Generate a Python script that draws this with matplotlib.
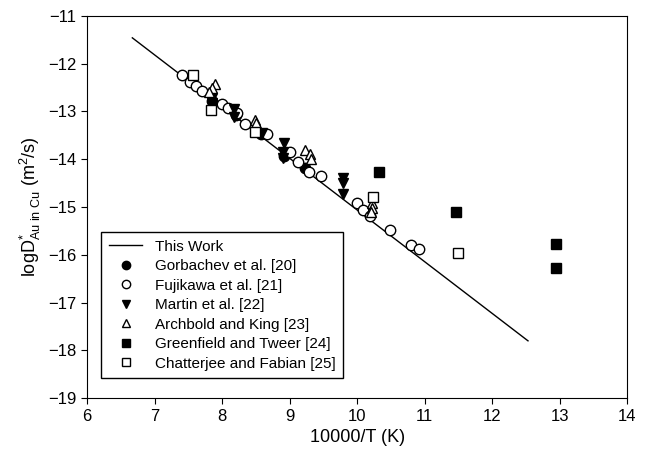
import matplotlib
matplotlib.use("Agg")
import matplotlib.pyplot as plt

plt.rcParams['font.family'] = ['Liberation Sans', 'DejaVu Sans']
plt.rcParams['mathtext.fontset'] = 'custom'
plt.rcParams['mathtext.rm'] = 'Liberation Sans'
plt.rcParams['mathtext.it'] = 'Liberation Sans:italic'

# "This Work" fit line end points
fit_x = [6.67, 12.53]
fit_y = [-11.46, -17.80]

# Gorbachev et al. [20]
gorb_x = [7.85, 8.20, 8.58, 8.91, 9.23]
gorb_y = [-12.78, -13.08, -13.47, -13.93, -14.19]

# Fujikawa et al. [21]
fuji_x = [7.40, 7.53, 7.62, 7.70, 8.00, 8.09, 8.22, 8.34, 8.67, 9.01, 9.12,
          9.28, 9.47, 10.00, 10.09, 10.19, 10.49, 10.79, 10.92]
fuji_y = [-12.24, -12.38, -12.47, -12.57, -12.84, -12.93, -13.04, -13.26, -13.48, -13.84, -14.05,
          -14.26, -14.35, -14.92, -15.06, -15.19, -15.48, -15.80, -15.87]

# Martin et al. [22]
mart_x = [7.85, 7.85, 8.18, 8.17, 8.59, 8.91, 8.90, 8.90, 9.79, 9.79, 9.79]
mart_y = [-12.72, -12.82, -12.95, -13.11, -13.46, -13.67, -13.84, -13.98, -14.40, -14.50, -14.73]

# Archbold and King [23]
arch_x = [7.89, 7.85, 7.80, 8.48, 8.50, 9.22, 9.30, 9.31, 10.22, 10.22, 10.20]
arch_y = [-12.42, -12.52, -12.60, -13.18, -13.25, -13.80, -13.90, -14.00, -14.92, -15.03, -15.10]

# Greenfield and Tweer [24]
gree_x = [10.32, 11.47, 12.94, 12.94]
gree_y = [-14.26, -15.10, -15.78, -16.28]

# Chatterjee and Fabian [25]
chat_x = [7.57, 7.84, 8.48, 10.24, 11.49]
chat_y = [-12.24, -12.97, -13.42, -14.78, -15.97]

fig, ax = plt.subplots(figsize=(6.5, 4.53), dpi=100)
fig.subplots_adjust(left=0.134, right=0.965, top=0.965, bottom=0.121)

ax.plot(fit_x, fit_y, color='black', lw=1.0, label='This Work')
ms = 7.5
ax.plot(gorb_x, gorb_y, 'o', ms=ms, mfc='black', mec='black', mew=1,
        label='Gorbachev et al. [20]')
ax.plot(fuji_x, fuji_y, 'o', ms=ms, mfc='white', mec='black', mew=1,
        label='Fujikawa et al. [21]')
ax.plot(mart_x, mart_y, 'v', ms=ms, mfc='black', mec='black', mew=1,
        label='Martin et al. [22]')
ax.plot(arch_x, arch_y, '^', ms=ms, mfc='white', mec='black', mew=1,
        label='Archbold and King [23]')
ax.plot(gree_x, gree_y, 's', ms=ms - 0.5, mfc='black', mec='black', mew=1,
        label='Greenfield and Tweer [24]')
ax.plot(chat_x, chat_y, 's', ms=ms - 0.5, mfc='white', mec='black', mew=1,
        label='Chatterjee and Fabian [25]')

ax.set_xlim(6, 14)
ax.set_ylim(-19, -11)
ax.set_xticks(range(6, 15))
ax.set_yticks(range(-19, -10))
ax.tick_params(direction='out', length=4, labelsize=12, top=False, right=False)
ax.set_xlabel('10000/T (K)', fontsize=13)
ax.set_ylabel(r'logD$^{*}_{\mathrm{Au\ in\ Cu}}$ (m$^{2}$/s)', fontsize=13)

leg = ax.legend(loc='lower left', bbox_to_anchor=(0.026, 0.052), fontsize=11,
                frameon=True, fancybox=False, edgecolor='black', framealpha=1,
                markerscale=0.8, handlelength=2.2, borderpad=0.5,
                labelspacing=0.36, borderaxespad=0)
leg.get_frame().set_linewidth(1.0)

fig.savefig('out.png', dpi=100)
